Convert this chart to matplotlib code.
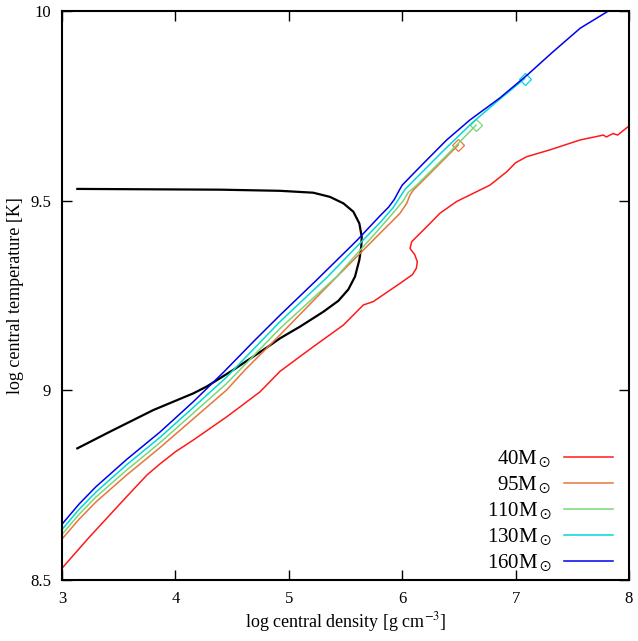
import matplotlib
matplotlib.use("Agg")
import matplotlib.pyplot as plt

plt.rcParams["font.family"] = ["Liberation Serif", "DejaVu Serif"]
plt.rcParams["mathtext.fontset"] = "stix"

# black boundary curve
bound_x = [3.135, 3.423, 3.805, 4.158, 4.276, 4.511, 4.817, 4.922, 5.099, 5.304, 5.437, 5.525, 5.584, 5.622, 5.639, 5.643, 5.622, 5.569, 5.481, 5.363, 5.216, 4.922, 4.4, 3.135]
bound_y = [8.847, 8.891, 8.948, 8.992, 9.010, 9.054, 9.115, 9.137, 9.168, 9.207, 9.236, 9.266, 9.300, 9.344, 9.379, 9.405, 9.440, 9.471, 9.493, 9.510, 9.521, 9.526, 9.529, 9.531]

# evolutionary tracks
m40_x = [3.0, 3.232, 3.571, 3.75, 3.864, 4.0, 4.158, 4.452, 4.746, 4.922, 5.216, 5.481, 5.657, 5.745, 5.981, 6.09, 6.125, 6.133, 6.11, 6.069, 6.084, 6.245, 6.333, 6.481, 6.774, 6.921, 7.0, 7.098, 7.303, 7.568, 7.774, 7.80, 7.86, 7.90, 8.0]
m40_y = [8.531, 8.610, 8.720, 8.777, 8.806, 8.838, 8.869, 8.930, 8.996, 9.050, 9.115, 9.172, 9.225, 9.234, 9.282, 9.305, 9.322, 9.339, 9.358, 9.374, 9.392, 9.440, 9.467, 9.498, 9.541, 9.576, 9.600, 9.616, 9.634, 9.660, 9.673, 9.668, 9.677, 9.673, 9.697]

m95_x = [3.0, 3.15, 3.3, 3.571, 3.864, 4.158, 4.452, 4.614, 4.922, 5.3, 5.804, 5.892, 5.981, 6.040, 6.069, 6.098, 6.186, 6.495]
m95_y = [8.608, 8.660, 8.706, 8.777, 8.849, 8.925, 9.001, 9.054, 9.146, 9.262, 9.414, 9.440, 9.467, 9.493, 9.515, 9.528, 9.554, 9.647]

m110_x = [3.0, 3.15, 3.3, 3.571, 3.864, 4.158, 4.452, 4.922, 5.422, 5.804, 5.921, 6.010, 6.054, 6.128, 6.40, 6.651]
m110_y = [8.620, 8.673, 8.719, 8.790, 8.862, 8.940, 9.018, 9.163, 9.300, 9.428, 9.468, 9.500, 9.522, 9.541, 9.622, 9.699]

m130_x = [3.0, 3.15, 3.3, 3.571, 3.864, 4.158, 4.452, 4.922, 5.334, 5.804, 5.921, 5.981, 6.025, 6.098, 6.35, 6.627, 6.85, 7.08]
m130_y = [8.633, 8.686, 8.732, 8.804, 8.876, 8.955, 9.035, 9.181, 9.297, 9.442, 9.482, 9.510, 9.530, 9.552, 9.628, 9.708, 9.765, 9.822]

m160_x = [3.0, 3.15, 3.3, 3.571, 3.864, 4.158, 4.422, 4.70, 4.922, 5.246, 5.60, 5.804, 5.88, 5.93, 5.975, 6.00, 6.186, 6.392, 6.598, 6.862, 7.109, 7.324, 7.571, 7.818]
m160_y = [8.647, 8.700, 8.746, 8.818, 8.890, 8.970, 9.047, 9.132, 9.198, 9.291, 9.395, 9.460, 9.483, 9.503, 9.528, 9.541, 9.598, 9.660, 9.713, 9.771, 9.833, 9.891, 9.955, 10.0]

labels = ["40", "95", "110", "130", "160"]
colors = ["#ff1a1a", "#e8743b", "#78d878", "#00d8d8", "#0000ee"]
tracks = [(m40_x, m40_y), (m95_x, m95_y), (m110_x, m110_y), (m130_x, m130_y), (m160_x, m160_y)]
ends = [False, True, True, True, False]

fig = plt.figure(figsize=(6.38, 6.41), dpi=100)
ax = fig.add_axes([0.0972, 0.0952, 0.8887, 0.8876])

ax.plot(bound_x, bound_y, color="black", lw=1.6)

for (tx, ty), lab, col, end in zip(tracks, labels, colors, ends):
    ax.plot(tx, ty, color=col, lw=1.1, label=lab + r"M$_\odot$")
    if end:
        ax.plot(tx[-1], ty[-1], marker="D", ms=6, mfc="none", mec=col, mew=0.9)

ax.set_xlim(3, 8)
ax.set_ylim(8.5, 10)
ax.set_xticks([3, 4, 5, 6, 7, 8])
ax.set_yticks([8.5, 9, 9.5, 10])
ax.set_yticklabels(["8.5", "9", "9.5", "10"])
ax.tick_params(direction="in", length=7, width=1, top=True, right=True, labelsize=12, pad=8)
for s in ax.spines.values():
    s.set_linewidth(1.5)

ax.set_xlabel(r"log central density [g cm$^{-3}$]", fontsize=13, labelpad=2)
ax.set_ylabel("log central temperature [K]", fontsize=13, labelpad=4)

ax.legend(loc="lower right", bbox_to_anchor=(0.9865, -0.004), markerfirst=False, frameon=False,
          fontsize=15, handlelength=2.35, labelspacing=0.22, borderaxespad=0.0, handletextpad=0.6)

fig.savefig("out.png", dpi=100)
